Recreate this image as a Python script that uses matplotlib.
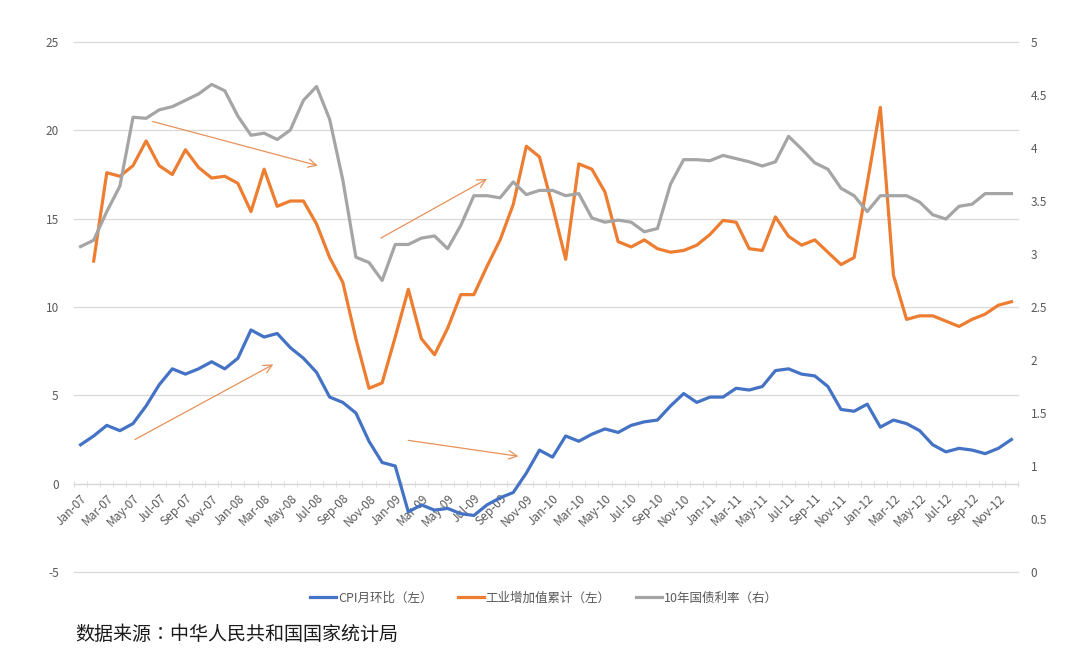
import matplotlib.pyplot as plt

plt.rcParams['font.family'] = ['Noto Sans CJK SC', 'DejaVu Sans']
plt.rcParams['axes.unicode_minus'] = False

months = ['Jan', 'Feb', 'Mar', 'Apr', 'May', 'Jun',
          'Jul', 'Aug', 'Sep', 'Oct', 'Nov', 'Dec']
labels = [f'{m}-{y:02d}' for y in range(7, 13) for m in months]

# CPI (left axis)
cpi = [2.2, 2.7, 3.3, 3.0, 3.4, 4.4, 5.6, 6.5, 6.2, 6.5, 6.9, 6.5,
       7.1, 8.7, 8.3, 8.5, 7.7, 7.1, 6.3, 4.9, 4.6, 4.0, 2.4, 1.2,
       1.0, -1.6, -1.2, -1.5, -1.4, -1.7, -1.8, -1.2, -0.8, -0.5, 0.6, 1.9,
       1.5, 2.7, 2.4, 2.8, 3.1, 2.9, 3.3, 3.5, 3.6, 4.4, 5.1, 4.6,
       4.9, 4.9, 5.4, 5.3, 5.5, 6.4, 6.5, 6.2, 6.1, 5.5, 4.2, 4.1,
       4.5, 3.2, 3.6, 3.4, 3.0, 2.2, 1.8, 2.0, 1.9, 1.7, 2.0, 2.5]

# industrial value added, cumulative (left axis), no value for Jan-07
iva = [None, 12.6, 17.6, 17.4, 18.0, 19.4, 18.0, 17.5, 18.9, 17.9, 17.3, 17.4,
       17.0, 15.4, 17.8, 15.7, 16.0, 16.0, 14.7, 12.8, 11.4, 8.2, 5.4, 5.7,
       8.3, 11.0, 8.2, 7.3, 8.8, 10.7, 10.7, 12.3, 13.8, 15.8, 19.1, 18.5,
       15.7, 12.7, 18.1, 17.8, 16.5, 13.7, 13.4, 13.8, 13.3, 13.1, 13.2, 13.5,
       14.1, 14.9, 14.8, 13.3, 13.2, 15.1, 14.0, 13.5, 13.8, 13.1, 12.4, 12.8,
       17.0, 21.3, 11.8, 9.3, 9.5, 9.5, 9.2, 8.9, 9.3, 9.6, 10.1, 10.3]

# 10-year government bond yield (right axis)
bond = [3.07, 3.13, 3.40, 3.64, 4.29, 4.28, 4.36, 4.39, 4.45, 4.51, 4.60, 4.54,
        4.30, 4.12, 4.14, 4.08, 4.17, 4.45, 4.58, 4.27, 3.70, 2.97, 2.92, 2.75,
        3.09, 3.09, 3.15, 3.17, 3.05, 3.27, 3.55, 3.55, 3.53, 3.68, 3.56, 3.60,
        3.60, 3.55, 3.57, 3.34, 3.30, 3.32, 3.30, 3.21, 3.24, 3.66, 3.89, 3.89,
        3.88, 3.93, 3.90, 3.87, 3.83, 3.87, 4.11, 3.99, 3.86, 3.80, 3.62, 3.55,
        3.40, 3.55, 3.55, 3.55, 3.49, 3.37, 3.33, 3.45, 3.47, 3.57, 3.57, 3.57]

# trend arrows drawn on the chart: (x0, y0, x1, y1) in month index / left-axis units
trend_arrows = [(5.5, 20.5, 18.1, 18.0),
                (22.9, 13.9, 31.0, 17.25),
                (4.15, 2.5, 14.7, 6.75),
                (25.0, 2.45, 33.4, 1.55)]

BLUE, ORANGE, GRAY = '#4472C4', '#ED7D31', '#A5A5A5'
TEXT = '#595959'
GRID = '#D9D9D9'

fig = plt.figure(figsize=(10.8, 6.69), dpi=100)
ax = fig.add_axes([74 / 1080, 1 - 572 / 669, 944 / 1080, 530 / 669])
ax2 = ax.twinx()

x = list(range(len(labels)))
l1, = ax.plot(x, cpi, color=BLUE, lw=2.3, solid_joinstyle='round', zorder=3)
l2, = ax.plot(x, [float('nan') if v is None else v for v in iva],
              color=ORANGE, lw=2.3, solid_joinstyle='round', zorder=3)
l3, = ax2.plot(x, bond, color=GRAY, lw=2.3, solid_joinstyle='round', zorder=3)

ax.set_xlim(-0.5, len(labels) - 0.5)
ax.set_ylim(-5, 25)
ax.set_yticks(range(-5, 26, 5))
ax2.set_ylim(0, 5)
ax2.set_yticks([i * 0.5 for i in range(11)])
ax2.set_yticklabels([f'{i * 0.5:g}' for i in range(11)])

ax.grid(axis='y', color=GRID, lw=0.9)
for gl in ax.get_ygridlines():
    gl.set_clip_on(False)
ax.set_axisbelow(True)
for a in (ax, ax2):
    for s in ('top', 'left', 'right', 'bottom'):
        a.spines[s].set_visible(False)

ax.spines['bottom'].set_visible(True)
ax.spines['bottom'].set_position(('data', 0))
ax.spines['bottom'].set_color(GRID)
ax.spines['bottom'].set_linewidth(0.9)

ax.set_xticks(x[::2])
ax.set_xticklabels(labels[::2], rotation=45, ha='right', va='top',
                   rotation_mode='anchor', color=TEXT, fontsize=8.5)
ax.set_xticks([i - 0.5 for i in range(len(labels) + 1)], minor=True)
ax.tick_params(axis='x', which='major', length=0, pad=6)
ax.tick_params(axis='x', which='minor', length=4, direction='inout', color=GRID)
ax.tick_params(axis='y', length=0, pad=11, labelcolor=TEXT, labelsize=8.5)
ax2.tick_params(axis='y', length=0, pad=9, labelcolor=TEXT, labelsize=8.5)

for x0, y0, x1, y1 in trend_arrows:
    ax.annotate('', xy=(x1, y1), xytext=(x0, y0),
                arrowprops=dict(arrowstyle='->,head_length=0.6,head_width=0.3',
                                color='#E8915A', lw=0.9, shrinkA=0, shrinkB=0),
                zorder=4)

fig.legend([l1, l2, l3], ['CPI月环比（左）', '工业增加值累计（左）', '10年国债利率（右）'],
           loc='center', bbox_to_anchor=(544 / 1080, 1 - 598 / 669), ncol=3,
           frameon=False, fontsize=9, labelcolor=TEXT, handlelength=2.1,
           handletextpad=0.15, columnspacing=2.0)

fig.text(75 / 1080, 1 - 635 / 669, '数据来源：中华人民共和国国家统计局',
         family=['Noto Sans CJK TC', 'DejaVu Sans'],
         fontsize=13.7, color='#1a1a1a', va='center', ha='left')

fig.savefig('out.png', dpi=100)
